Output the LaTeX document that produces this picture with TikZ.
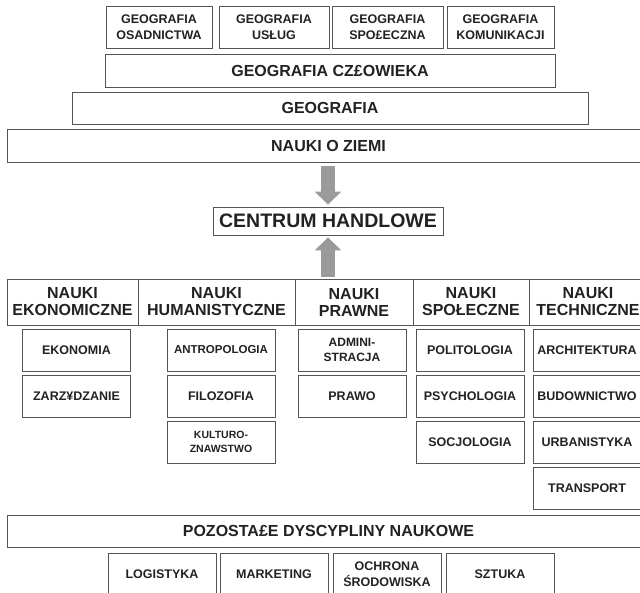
\documentclass[tikz,border=0pt]{standalone}
\usepackage{fontspec}
\setmainfont{Liberation Sans}
\usetikzlibrary{arrows.meta,calc}
\definecolor{boxline}{HTML}{555555}
\definecolor{arrowgray}{HTML}{9A9A9A}
\definecolor{txt}{HTML}{222222}
\tikzstyle{box}      = [draw=boxline, line width=0.9pt, fill=white, text=txt, inner sep=0pt, align=center, font=\bfseries\fontsize{12.5}{15.5}\selectfont]
\tikzstyle{bigbox}   = [box, font=\bfseries\fontsize{16}{17}\selectfont]
\tikzstyle{subbox}   = [box, minimum width=108, minimum height=42]
\tikzstyle{arrow}    = [arrowgray, line width=14pt, -{Triangle[width=26pt,length=13pt]}]
\begin{document}
\begin{tikzpicture}[x=1pt,y=-1pt]
	\useasboundingbox (0,0) rectangle (640,593);
	\clip (0,0) rectangle (640,593);

	% geografia
	\node[box, minimum width=106, minimum height=42] (geoosad) at (159,27) {GEOGRAFIA\\OSADNICTWA};
	\node[box, minimum width=110, minimum height=42] (geouslug) at (274,27) {GEOGRAFIA\\USŁUG};
	\node[box, minimum width=111, minimum height=42] (geospol) at (387.5,27) {GEOGRAFIA\\SPO£ECZNA};
	\node[box, minimum width=107, minimum height=42] (geokom) at (500.5,27) {GEOGRAFIA\\KOMUNIKACJI};
	\node[bigbox, minimum width=450, minimum height=33] (czlowiek) at (330,70.5) {GEOGRAFIA CZ£OWIEKA};
	\node[bigbox, minimum width=516, minimum height=32] (geografia) at (330,108) {GEOGRAFIA};
	\node[bigbox, minimum width=643, minimum height=33] (ziemi) at (328.5,145.5) {NAUKI O ZIEMI};

	% centrum
	\node[box, minimum width=230, minimum height=28, font=\bfseries\fontsize{19.5}{20}\selectfont] (centrum) at (328,221) {CENTRUM HANDLOWE};

	% nauki
	\node[bigbox, minimum width=131, minimum height=46] (ekon) at (72.5,302) {NAUKI\\EKONOMICZNE};
	\node[bigbox, minimum width=157, minimum height=46] (human) at (216.5,302) {NAUKI\\HUMANISTYCZNE};
	\node[bigbox, minimum width=118, minimum height=46] (prawne) at (354,302) {NAUKI\\PRAWNE};
	\node[bigbox, minimum width=116, minimum height=46] (spol) at (471,302) {NAUKI\\SPOŁECZNE};
	\node[bigbox, minimum width=118, minimum height=46] (tech) at (588,302) {NAUKI\\TECHNICZNE};

	\draw[arrow, shorten <=4pt, shorten >=2pt] (ziemi.south -| centrum.north) -- (centrum.north);
	\draw[arrow, shorten <=2pt, shorten >=2pt] (centrum.south |- prawne.north) -- (centrum.south);

	\node[subbox] (ekonomia) at (76.5,350) {EKONOMIA};
	\node[subbox] (zarzadz) at (76.5,396) {ZARZ¥DZANIE};

	\node[subbox, font=\bfseries\fontsize{11.5}{14}\selectfont] (antrop) at (221,350) {ANTROPOLOGIA};
	\node[subbox] (filozof) at (221,396) {FILOZOFIA};
	\node[subbox, font=\bfseries\fontsize{10.5}{13.5}\selectfont] (kultur) at (221,442) {KULTURO-\\ZNAWSTWO};

	\node[subbox, font=\bfseries\fontsize{12}{14.5}\selectfont] (admin) at (352,350) {ADMINI-\\STRACJA};
	\node[subbox] (prawo) at (352,396) {PRAWO};

	\node[subbox] (politol) at (470,350) {POLITOLOGIA};
	\node[subbox] (psychol) at (470,396) {PSYCHOLOGIA};
	\node[subbox] (socjol) at (470,442) {SOCJOLOGIA};

	\node[subbox] (archit) at (587,350) {ARCHITEKTURA};
	\node[subbox] (budown) at (587,396) {BUDOWNICTWO};
	\node[subbox] (urban) at (587,442) {URBANISTYKA};
	\node[subbox] (transp) at (587,488) {TRANSPORT};

	% pozostale
	\node[bigbox, minimum width=643, minimum height=32] (pozost) at (328.5,531) {POZOSTA£E DYSCYPLINY NAUKOWE};
	\node[subbox] (logist) at (162,574) {LOGISTYKA};
	\node[subbox] (market) at (274,574) {MARKETING};
	\node[subbox] (ochrona) at (387,574) {OCHRONA\\ŚRODOWISKA};
	\node[subbox] (sztuka) at (500,574) {SZTUKA};
\end{tikzpicture}
\end{document}
